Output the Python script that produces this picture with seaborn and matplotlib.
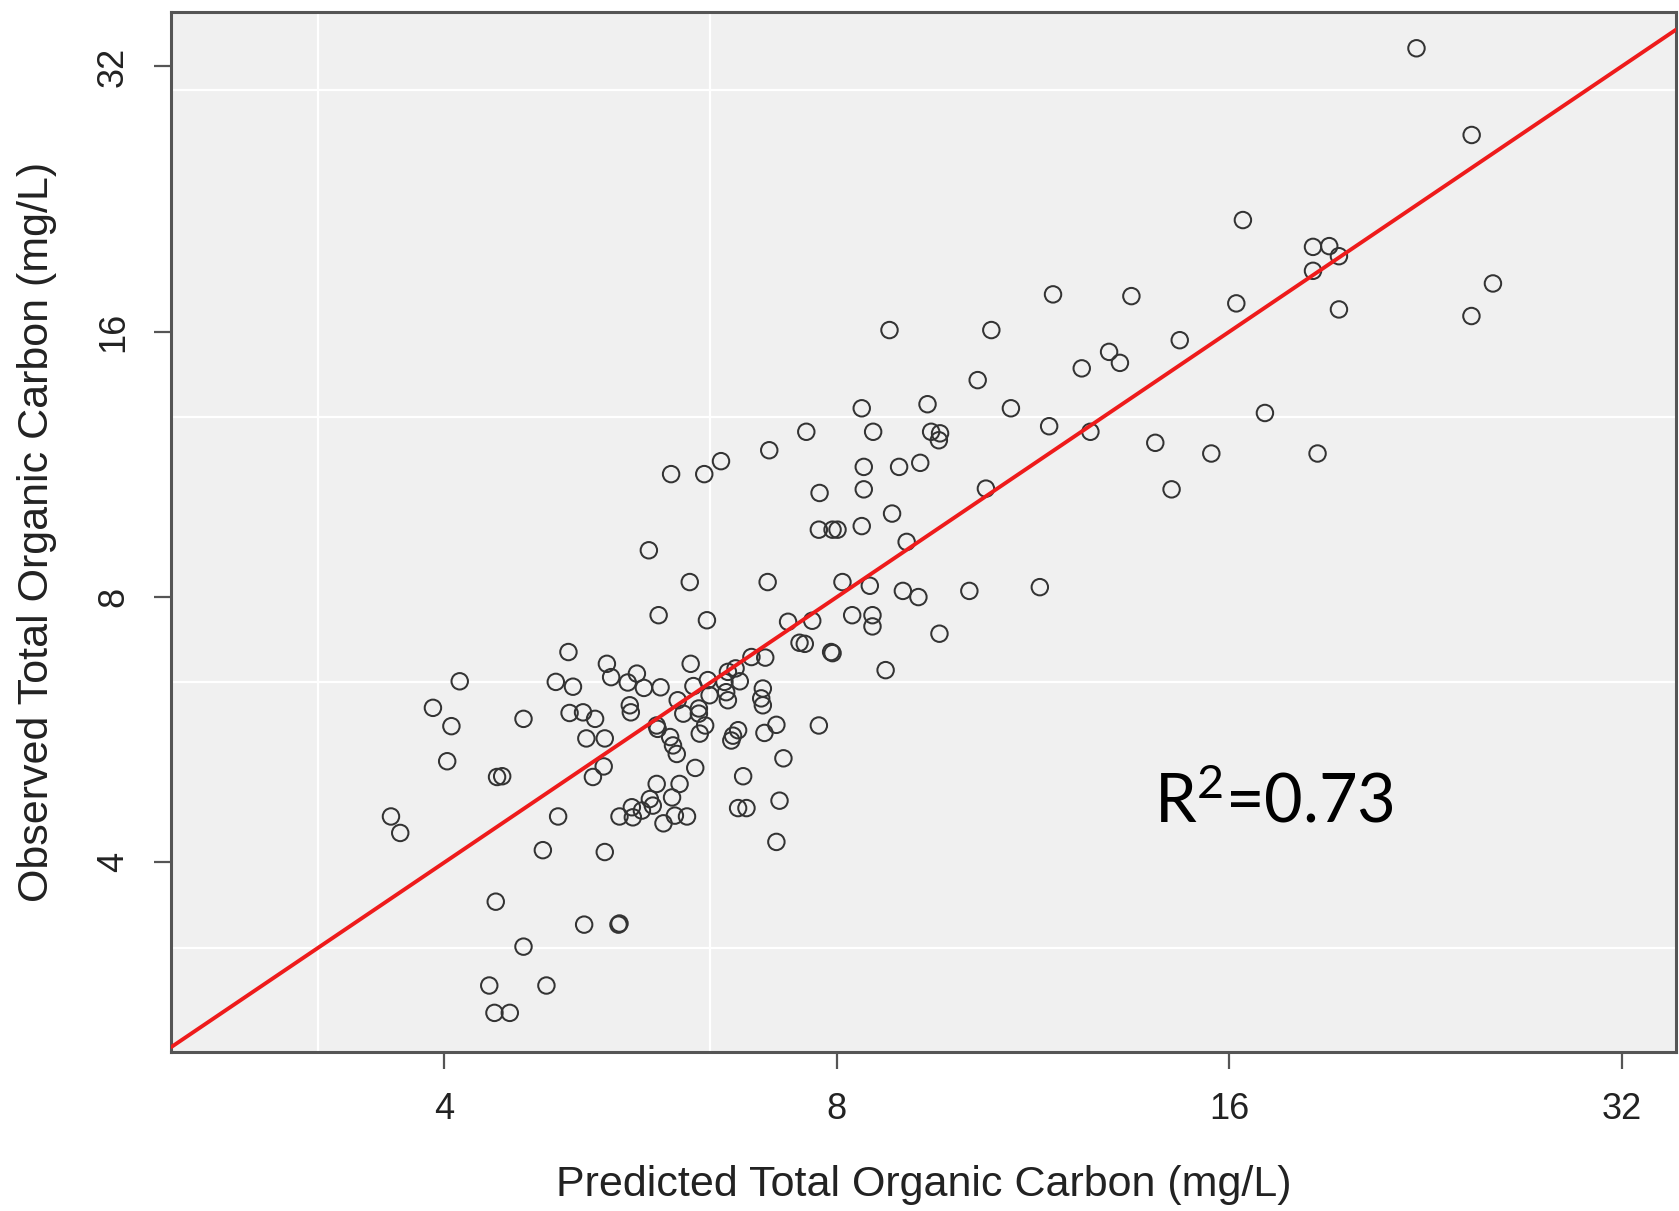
import matplotlib
matplotlib.use("Agg")
import matplotlib.pyplot as plt
from matplotlib.ticker import FixedLocator, FixedFormatter, NullLocator
import pandas as pd
import seaborn as sns

# Predicted vs observed total organic carbon (mg/L), one entry per sample
predicted = [
    4.98, 4.11, 4.87, 5.02, 3.92, 4.05, 4.60, 4.99, 4.02, 4.39, 4.43, 3.64,
    3.70, 4.89, 4.76, 4.38, 5.12, 5.44, 5.45, 4.60, 4.33, 4.79, 4.37, 4.49,
    7.49, 7.56, 5.33, 6.18, 6.88, 7.05, 5.37, 5.62, 5.53, 5.69, 5.86, 6.21,
    6.04, 6.37, 6.39, 6.60, 6.69, 6.56, 6.74, 6.58, 6.60, 7.02, 7.00, 7.02,
    5.55, 5.56, 5.11, 5.22, 6.10, 6.27, 6.27, 5.82, 5.83, 6.34, 6.28, 7.19,
    7.04, 6.72, 6.66, 6.64, 5.14, 5.31, 5.96, 5.99, 6.03, 5.30, 5.20, 6.23,
    7.28, 6.78, 5.82, 6.06, 5.98, 5.75, 5.78, 5.57, 5.67, 5.45, 5.58, 5.89,
    6.01, 6.14, 6.72, 6.82, 7.23, 7.19, 5.31,
    8.36, 9.39, 10.88, 7.58, 8.53, 9.45, 9.60, 9.58, 11.64, 12.52, 7.10, 5.97,
    6.33, 6.52, 8.39, 8.39, 8.93, 9.27, 7.76, 8.82, 10.41, 7.75, 7.94, 8.01,
    8.36, 9.05, 5.74, 6.17, 7.08, 8.08, 8.48, 8.99, 9.24, 10.11, 11.45, 5.84,
    6.36, 7.34, 7.66, 8.22, 8.52, 8.52, 9.59, 7.92, 7.94, 8.72, 7.75,
    11.72, 13.46, 8.78, 10.51, 12.94, 13.19, 12.33, 10.26, 22.27, 24.55,
    16.39, 18.55, 19.09, 19.42, 18.55, 25.49, 16.20, 19.42, 24.54, 14.66,
    17.04, 14.04, 15.50, 18.70, 14.45,
]
observed = [
    6.93, 6.42, 6.41, 6.33, 5.99, 5.71, 5.82, 5.91, 5.21, 5.00, 5.01, 4.51,
    4.32, 4.51, 4.13, 3.61, 3.40, 3.40, 3.41, 3.21, 2.90, 2.90, 2.70, 2.70,
    7.10, 7.08, 6.72, 6.72, 6.84, 6.83, 6.49, 6.55, 6.40, 6.31, 6.32, 6.34,
    6.11, 6.44, 6.19, 6.58, 6.64, 6.41, 6.42, 6.24, 6.11, 6.30, 6.14, 6.03,
    6.03, 5.92, 5.92, 5.82, 5.90, 5.98, 5.90, 5.72, 5.67, 5.72, 5.60, 5.73,
    5.61, 5.65, 5.57, 5.50, 5.53, 5.53, 5.55, 5.43, 5.31, 5.14, 5.00, 5.12,
    5.25, 5.01, 4.91, 4.91, 4.74, 4.72, 4.64, 4.62, 4.58, 4.51, 4.50, 4.43,
    4.52, 4.51, 4.61, 4.61, 4.70, 4.22, 4.11,
    13.10, 13.24, 13.10, 12.32, 12.32, 12.32, 12.27, 12.05, 12.50, 12.32,
    11.74, 11.03, 11.03, 11.41, 11.24, 10.60, 11.24, 11.36, 10.50, 9.95,
    10.62, 9.54, 9.54, 9.54, 9.63, 9.24, 9.04, 8.32, 8.32, 8.32, 8.24, 8.13,
    8.00, 8.13, 8.21, 7.63, 7.53, 7.50, 7.52, 7.63, 7.63, 7.41, 7.27, 6.93,
    6.91, 6.61, 5.72,
    17.64, 17.56, 16.07, 16.07, 15.18, 14.75, 14.54, 14.10, 33.55, 26.75,
    21.42, 19.97, 20.01, 19.49, 18.76, 18.15, 17.23, 16.96, 16.67, 15.65,
    12.94, 11.97, 11.64, 11.64, 10.60,
]

tick_values = [4, 8, 16, 32]
tick_labels = ["4", "8", "16", "32"]
grid_x = [3.2, 6.4]
grid_y = [3.2, 6.4, 12.8, 30.1]
r_squared = 0.73

df = pd.DataFrame({"predicted": predicted, "observed": observed})

sns.set_theme(style="white")
plt.rcParams["font.family"] = ["Liberation Sans", "DejaVu Sans"]
plt.rcParams["mathtext.fontset"] = "custom"
plt.rcParams["mathtext.rm"] = "Lato"
plt.rcParams["mathtext.it"] = "Lato:italic"

fig = plt.figure(figsize=(16.79, 12.11), dpi=100, facecolor="white")
ax = fig.add_axes([0.1021, 0.1316, 0.8964, 0.8581])
ax.set_facecolor("#f0f0f0")
ax.set_xscale("log", base=2)
ax.set_yscale("log", base=2)
ax.set_xlim(2.47, 35.25)
ax.set_ylim(2.44, 36.84)

for gx in grid_x:
    ax.axvline(gx, color="white", lw=1.6, zorder=0.5)
for gy in grid_y:
    ax.axhline(gy, color="white", lw=1.6, zorder=0.5)

sns.scatterplot(data=df, x="predicted", y="observed", ax=ax, marker="o",
                s=140, facecolor="none", edgecolor="#333333", linewidth=1.45,
                zorder=3, legend=False)

# 1:1 reference line
ax.axline((4, 4), (16, 16), color="#ee1b1b", lw=2.8, zorder=4)

for axis in (ax.xaxis, ax.yaxis):
    axis.set_major_locator(FixedLocator(tick_values))
    axis.set_major_formatter(FixedFormatter(tick_labels))
    axis.set_minor_locator(NullLocator())

ax.tick_params(axis="both", which="major", direction="out", length=12,
               width=1.6, color="#555555", pad=17, labelsize=26,
               labelcolor="#222222", bottom=True, left=True)
ax.tick_params(axis="y", labelrotation=90)
for lab in ax.get_yticklabels():
    lab.set_va("center")

for sp in ax.spines.values():
    sp.set_color("#555555")
    sp.set_linewidth(2.2)

ax.set_xlabel("Predicted Total Organic Carbon (mg/L)", fontsize=31,
              color="#222222")
ax.set_ylabel("Observed Total Organic Carbon (mg/L)", fontsize=31,
              color="#222222")
ax.xaxis.label.set_va("center")
ax.yaxis.label.set_va("center")
ax.yaxis.label.set_ha("center")
ax.xaxis.set_label_coords(0.5, -0.1284)
ax.yaxis.set_label_coords(-0.0895, 0.5)

ax.text(14.0, 4.44, r"R$^{2}$=" + f"{r_squared:.2f}", family="Lato",
        fontsize=48, color="black", ha="left", va="baseline", zorder=5)

fig.savefig("out.png", dpi=100, facecolor="white")
